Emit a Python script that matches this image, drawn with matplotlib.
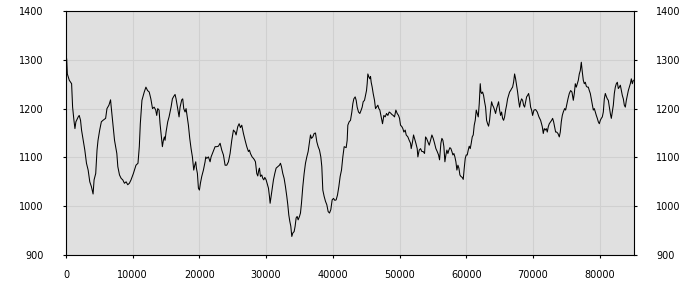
import matplotlib
matplotlib.use("Agg")
import matplotlib.pyplot as plt

# values (x position, value)
x_pos = [
    0, 100, 200, 495, 840, 990, 1190, 1340, 1485, 1830, 1980, 2180, 2330, 2575, 2820,
    3070, 3320, 3565, 3810, 4060, 4210, 4455, 4650, 4800, 5050, 5300, 5545, 5940, 6140,
    6435, 6680, 6780, 7030, 7275, 7620, 7770, 8020, 8270, 8510, 8760, 9010, 9255, 9500,
    9750, 10100, 10490, 10790, 10990, 11140, 11385, 11730, 11980, 12225, 12475, 12720,
    12970, 13215,
    13450, 13600, 13750, 13950, 14100, 14250, 14450, 14600, 14750, 14850, 15000, 15250,
    15450, 15750, 15950, 16150, 16350, 16500, 16700, 16950, 17100, 17350, 17500, 17650,
    17850, 18000, 18150, 18350, 18550, 18750, 18950, 19150, 19300, 19450, 19550, 19700,
    19850, 20000, 20150, 20350, 20600, 20850, 20950, 21100, 21350, 21600, 21750, 21950,
    22150, 22350, 22600, 22850, 23100, 23350, 23600, 23850, 24100, 24350, 24600, 24850,
    25100, 25350, 25500, 25750, 25950, 26150, 26350, 26600, 26850, 27100, 27350,
    27500, 27650, 27900, 28100, 28250, 28400, 28600, 28750, 28900, 29000, 29150, 29350,
    29500, 29650, 29800, 30000, 30150, 30350, 30500, 30600, 30750, 30900, 31100, 31300,
    31500, 31750, 32000, 32150, 32300, 32500, 32700, 32900, 33100, 33250, 33400, 33550,
    33700, 33850, 34000, 34200, 34350, 34500, 34650, 34800, 35000, 35150, 35300, 35500,
    35700, 35900, 36100, 36300, 36500, 36650, 36800, 37000, 37200, 37400, 37600, 37800,
    38000, 38200, 38350, 38500, 38700, 38900, 39100, 39300, 39500, 39700, 39900, 40100,
    40300, 40500, 40700, 40900, 41100, 41300, 41500, 41700,
    42000, 42150, 42250, 42450, 42650, 42850, 43000, 43150, 43350, 43500, 43650, 43850,
    44050, 44250, 44400, 44550, 44750, 44900, 45050, 45150, 45250, 45400, 45550, 45650,
    45750, 45900, 46050, 46250, 46400, 46550, 46750, 46900, 47050, 47250, 47450, 47650,
    47850, 48050, 48250, 48450, 48650, 48850, 49050, 49250, 49450, 49650, 49850, 50000,
    50150, 50350, 50500, 50650, 50850, 51000, 51250, 51450, 51650, 51750, 51950, 52100,
    52250, 52450, 52650, 52750, 52950, 53150, 53350, 53550, 53750, 53900, 54050, 54250,
    54450, 54650, 54850, 55050, 55250, 55450, 55650, 55850, 56000,
    56200, 56350, 56500, 56650, 56800, 56950, 57100, 57250, 57400, 57550, 57700, 57850,
    58000, 58150, 58300, 58450, 58600, 58750, 58900, 59050, 59200, 59400, 59550, 59700,
    59850, 60000, 60150, 60300, 60450, 60600, 60750, 60900, 61050, 61200, 61350, 61500,
    61650, 61800, 61950, 62100, 62200, 62300, 62450, 62600, 62750, 62900, 63050, 63200,
    63350, 63500, 63650, 63800, 63950, 64100, 64250, 64400, 64550, 64700, 64850, 65000,
    65150, 65300, 65450, 65600, 65750, 65900, 66050, 66200, 66350, 66500, 66650, 66800,
    66950, 67100, 67250, 67400, 67550, 67700, 67850, 68000, 68150, 68300, 68450, 68600,
    68750, 68900, 69050, 69200, 69350, 69500, 69650, 69800, 69950,
    70150, 70400, 70650, 70900, 71150, 71400, 71550, 71700, 71850, 72000, 72150, 72300,
    72450, 72650, 72800, 72950, 73100, 73250, 73400, 73550, 73750, 73950, 74100, 74250,
    74400, 74550, 74750, 74900, 75050, 75250, 75450, 75650, 75850, 76050, 76200, 76350,
    76500, 76650, 76800, 76950, 77100, 77250, 77400, 77550, 77700, 77850, 78000, 78150,
    78300, 78450, 78600, 78750, 78900, 79050, 79200, 79350, 79500, 79650, 79800, 79950,
    80100, 80250, 80400, 80550, 80700, 80850, 81000, 81150, 81300, 81450, 81600, 81750,
    81900, 82050, 82200, 82350, 82500, 82650, 82800, 82950, 83100, 83250, 83400, 83550,
    83700, 83850, 84000, 84150, 84300, 84450, 84600, 84750, 84900, 85050,
]
values = [
    1305, 1302, 1271, 1258, 1251, 1203, 1176, 1159, 1173, 1183, 1186, 1176, 1156, 1135, 1115,
    1088, 1074, 1050, 1040, 1025, 1054, 1067, 1115, 1135, 1156, 1173, 1176, 1180, 1200,
    1207, 1218, 1203, 1169, 1135, 1108, 1081, 1064, 1057, 1054, 1047, 1050, 1044, 1047,
    1054, 1067, 1084, 1088, 1122, 1169, 1217, 1234, 1244, 1237, 1234, 1220,
    1200, 1203,
    1197, 1186, 1200, 1197, 1169, 1149, 1122, 1135, 1142, 1135, 1152, 1173,
    1183, 1203, 1220, 1225, 1229, 1220, 1203, 1183, 1203, 1218, 1220, 1200,
    1193, 1200, 1186, 1166, 1139, 1118, 1101, 1074, 1084, 1091, 1078, 1067,
    1037, 1033, 1047, 1061, 1074, 1091, 1101, 1098, 1101, 1091, 1101, 1108,
    1115, 1122, 1122, 1123, 1129, 1115, 1105, 1084, 1084, 1091, 1108, 1135,
    1156, 1152, 1146, 1163, 1169, 1161, 1166, 1149, 1135, 1122, 1112,
    1115, 1108, 1101, 1098, 1095, 1091, 1067, 1062, 1074, 1078, 1061, 1064,
    1057, 1054, 1059, 1054, 1047, 1037, 1020, 1006, 1020, 1033, 1054, 1067,
    1078, 1081, 1084, 1088, 1081, 1067, 1057, 1040, 1020, 1003, 982, 969,
    959, 938, 945, 948, 959, 976, 979, 972, 979, 986, 1006, 1040,
    1067, 1088, 1101, 1112, 1132, 1146, 1139, 1142, 1149, 1150, 1132, 1122,
    1115, 1101, 1081, 1033, 1020, 1010, 1003, 989, 986, 993, 1013, 1016,
    1012, 1013, 1023, 1040, 1061, 1074, 1101, 1122,
    1120, 1135, 1166, 1173, 1176, 1193, 1210, 1220, 1224, 1217, 1203, 1193,
    1190, 1197, 1203, 1214, 1217, 1227, 1237, 1251, 1271, 1265, 1261, 1266,
    1254, 1244, 1231, 1217, 1200, 1203, 1207, 1200, 1197, 1183, 1169, 1186,
    1183, 1190, 1186, 1193, 1191, 1188, 1186, 1183, 1197, 1190, 1186, 1180,
    1166, 1163, 1159, 1152, 1156, 1146, 1142, 1135, 1129, 1118, 1132, 1146,
    1139, 1129, 1118, 1101, 1115, 1118, 1112, 1112, 1108, 1142, 1139, 1132,
    1125, 1135, 1146, 1139, 1129, 1118, 1112, 1105, 1095,
    1129, 1139, 1135, 1122, 1091, 1105, 1115, 1108, 1115, 1120, 1118, 1112,
    1105, 1108, 1101, 1091, 1074, 1084, 1078, 1064, 1061, 1059, 1055, 1078,
    1098, 1105, 1105, 1115, 1123, 1118, 1129, 1142, 1146, 1166, 1176, 1197,
    1190, 1183, 1210, 1251, 1234, 1231, 1234, 1227, 1214, 1203, 1176, 1169,
    1164, 1176, 1197, 1214, 1207, 1203, 1197, 1190, 1200, 1207, 1214, 1197,
    1186, 1193, 1180, 1176, 1183, 1197, 1207, 1220, 1227, 1234, 1237, 1241,
    1244, 1254, 1271, 1261, 1248, 1234, 1217, 1203, 1214, 1220, 1217, 1207,
    1203, 1214, 1224, 1227, 1231, 1220, 1203, 1197, 1186,
    1197, 1198, 1193, 1183, 1176, 1163, 1149, 1159, 1156, 1159, 1152, 1163,
    1169, 1173, 1176, 1180, 1173, 1163, 1152, 1152, 1149, 1142, 1152, 1173,
    1186, 1193, 1200, 1197, 1207, 1220, 1231, 1237, 1234, 1217, 1231, 1251,
    1244, 1251, 1258, 1271, 1278, 1295, 1275, 1258, 1251, 1254, 1246, 1244,
    1244, 1237, 1231, 1220, 1210, 1197, 1200, 1193, 1186, 1180, 1173, 1169,
    1176, 1180, 1183, 1193, 1220, 1231, 1225, 1220, 1217, 1203, 1190, 1180,
    1193, 1207, 1231, 1244, 1251, 1254, 1241, 1244, 1248, 1237, 1227, 1220,
    1207, 1203, 1217, 1227, 1237, 1244, 1251, 1261, 1251, 1258,
]
x_ticks = [0, 10000, 20000, 30000, 40000, 50000, 60000, 70000, 80000]
y_ticks = [900, 1000, 1100, 1200, 1300, 1400]

fig = plt.figure(figsize=(7, 3), dpi=100)
ax = fig.add_axes([66/700, 1 - 255/300, (634 - 66)/700, (255 - 11)/300])
ax.set_facecolor("#e0e0e0")
ax.plot(x_pos, values, color="black", lw=0.75)
ax.set_xlim(0, 85150); ax.set_ylim(900, 1400)
ax.set_xticks(x_ticks); ax.set_yticks(y_ticks)
ax.grid(True, color="#d0d0d0", lw=0.8); ax.set_axisbelow(True)
for s in ax.spines.values():
    s.set_color("black"); s.set_linewidth(0.8)
ax.tick_params(axis="y", which="both", left=True, right=True, labelleft=True, labelright=True,
               length=2, width=0.8, labelsize=7, pad=14)
ax.tick_params(axis="x", length=2, width=0.8, labelsize=7, pad=9)
fig.savefig("out.png", dpi=100, facecolor="white")
